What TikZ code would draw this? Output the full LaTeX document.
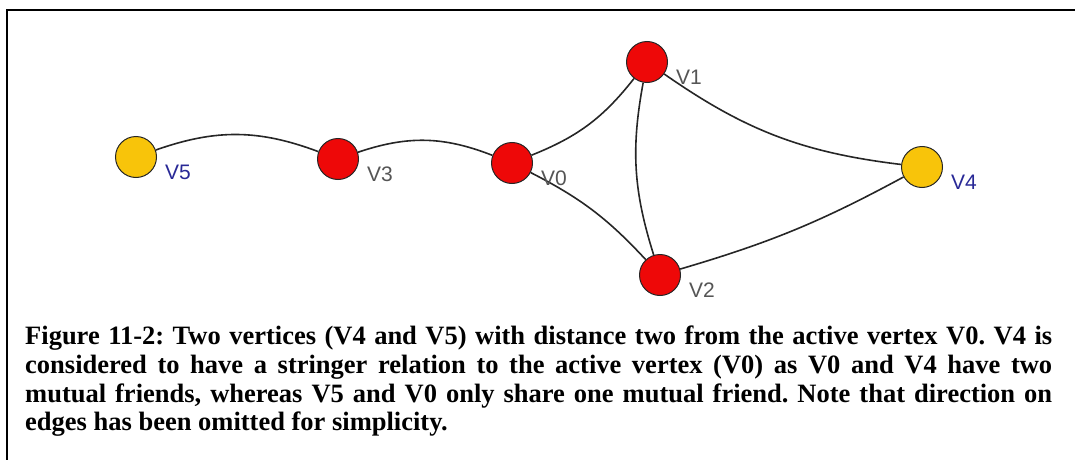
\documentclass[tikz,border=0pt]{standalone}
\usepackage{fontspec}
\setmainfont{Liberation Serif}
\newfontfamily\lblfont{Liberation Sans}
\usetikzlibrary{positioning}
\definecolor{vred}{RGB}{238,8,8}
\definecolor{vyellow}{RGB}{248,196,10}
\definecolor{lblblue}{RGB}{40,40,150}
\definecolor{lblgray}{RGB}{85,85,85}
\frenchspacing

\begin{document}
\begin{tikzpicture}[x=1pt, y=1pt,
    vtx/.style={circle, draw=black!85, line width=1pt, minimum size=41pt, inner sep=0pt},
    lbl/.style={font=\lblfont\fontsize{21}{21}\selectfont, anchor=west, inner sep=0pt},
    edge/.style={line width=1.6pt, draw=black!85}]
    \useasboundingbox (0,0) rectangle (1075,-460);
    % frame (top and left only)
    \draw[line width=2pt] (1075,-10) -- (7,-10) -- (7,-460);
    % vertices
    \node[vtx, fill=vyellow] (v5) at (136,-157) {};
    \node[vtx, fill=vred] (v3) at (338,-159) {};
    \node[vtx, fill=vred] (v0) at (512,-163) {};
    \node[vtx, fill=vred] (v1) at (647,-62) {};
    \node[vtx, fill=vred] (v2) at (660,-275) {};
    \node[vtx, fill=vyellow] (v4) at (922,-167) {};
    % edges
    \draw[edge] (v5) to[bend left=20] (v3);
    \draw[edge] (v3) to[bend left=20] (v0);
    \draw[edge] (v0) to[bend right=15] (v1);
    \draw[edge] (v0) to[bend left=10] (v2);
    \draw[edge] (v1) to[bend right=14] (v2);
    \draw[edge] (v1) to[bend right=14] (v4);
    \draw[edge] (v2) to[bend right=6] (v4);
    % labels
    \node[lbl, text=lblblue] (t5) at ([shift={(29,-15)}]v5.center) {V5};
    \node[lbl, text=lblgray] (t3) at ([shift={(29,-15)}]v3.center) {V3};
    \node[lbl, text=lblgray] (t0) at ([shift={(29,-15)}]v0.center) {V0};
    \node[lbl, text=lblgray] (t1) at ([shift={(29,-15)}]v1.center) {V1};
    \node[lbl, text=lblgray] (t2) at ([shift={(29,-15)}]v2.center) {V2};
    \node[lbl, text=lblblue] (t4) at ([shift={(29,-15)}]v4.center) {V4};
    % caption
    \node[anchor=north west, inner sep=0pt, text width=1027pt, align=justify,
      font=\bfseries\fontsize{26.5}{28.7}\selectfont] (cap) at (25,-326)
      {Figure 11-2: Two vertices (V4 and V5) with distance two from the active vertex V0. V4 is\linebreak
       considered to have a stringer relation to the active vertex (V0) as V0 and V4 have two\linebreak
       mutual friends, whereas V5 and V0 only share one mutual friend. Note that direction on\linebreak
       edges has been omitted for simplicity.};
\end{tikzpicture}
\end{document}
